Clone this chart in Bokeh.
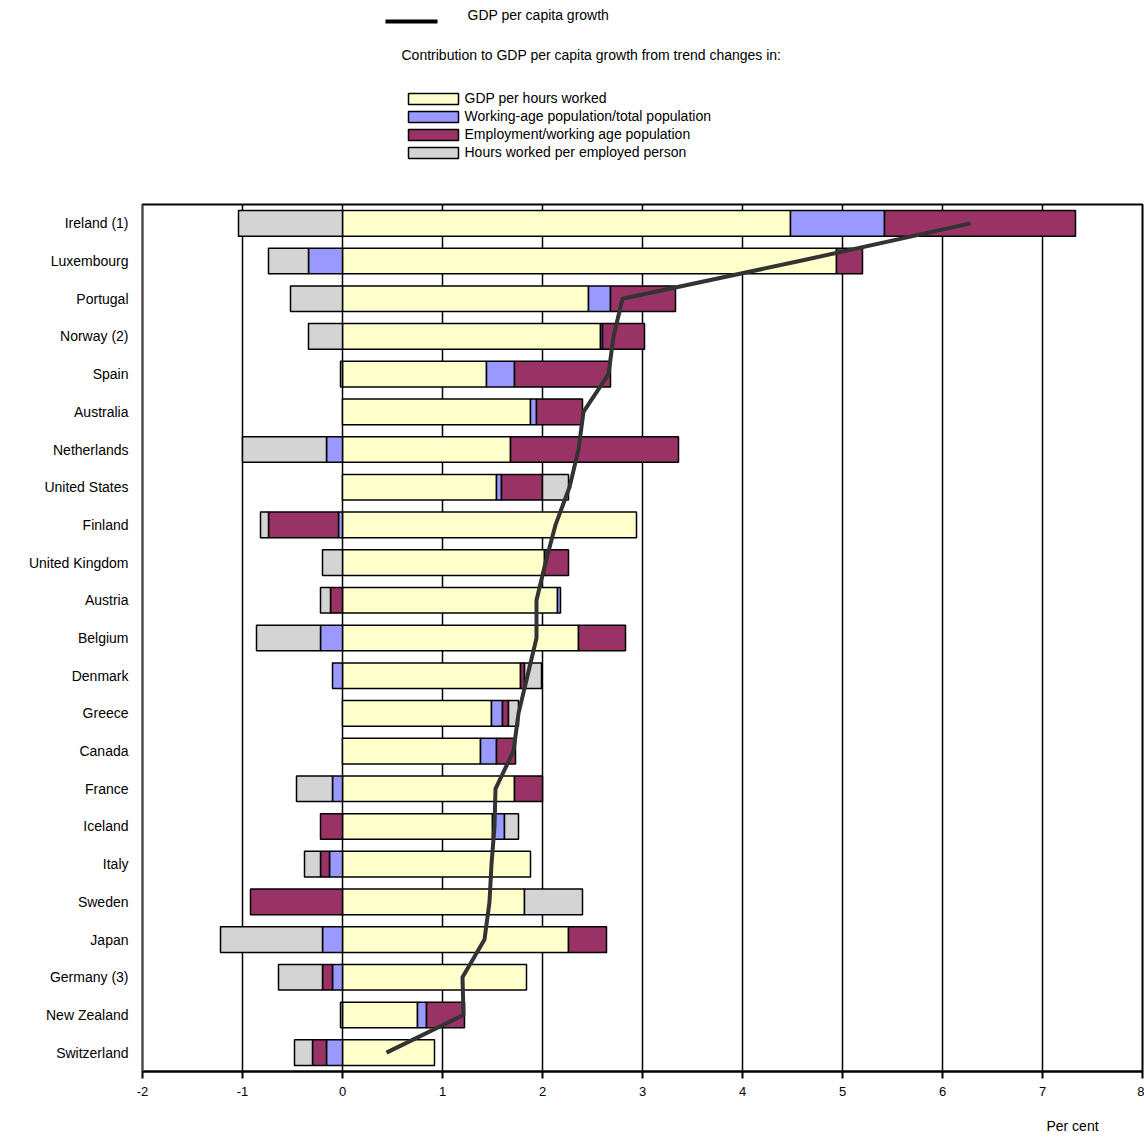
import numpy as np
from bokeh.plotting import figure
from bokeh.models import ColumnDataSource, FactorRange, Range1d, FixedTicker, Span
from bokeh.layouts import column
from bokeh.embed import file_html
from bokeh.resources import INLINE
from bokeh.core.properties import value

FONT = "Liberation Sans"

countries = ["Ireland (1)", "Luxembourg", "Portugal", "Norway (2)", "Spain", "Australia",
             "Netherlands", "United States", "Finland", "United Kingdom", "Austria", "Belgium",
             "Denmark", "Greece", "Canada", "France", "Iceland", "Italy", "Sweden", "Japan",
             "Germany (3)", "New Zealand", "Switzerland"]

gdp_per_hour = [4.48, 4.94, 2.46, 2.58, 1.44, 1.88, 1.68, 1.54, 2.94, 2.02, 2.15, 2.36,
                1.78, 1.49, 1.38, 1.72, 1.50, 1.88, 1.82, 2.26, 1.84, 0.75, 0.92]
working_age = [0.94, -0.34, 0.22, 0.02, 0.28, 0.06, -0.16, 0.05, -0.04, 0.0, 0.03, -0.22,
               -0.10, 0.11, 0.16, -0.10, 0.12, -0.13, 0.0, -0.20, -0.10, 0.09, -0.16]
employment = [1.91, 0.26, 0.65, 0.42, 0.96, 0.46, 1.68, 0.41, -0.70, 0.24, -0.12, 0.47,
              0.04, 0.06, 0.19, 0.28, -0.22, -0.09, -0.92, 0.38, -0.10, 0.38, -0.14]
hours = [-1.04, -0.40, -0.52, -0.34, -0.02, 0.0, -0.84, 0.26, -0.08, -0.20, -0.10, -0.64,
         0.17, 0.10, 0.0, -0.36, 0.14, -0.16, 0.58, -1.02, -0.44, -0.02, -0.18]
gdp_per_capita_growth = [6.28, 4.57, 2.80, 2.71, 2.66, 2.41, 2.36, 2.27, 2.13, 2.03, 1.94, 1.94,
                         1.85, 1.76, 1.71, 1.53, 1.52, 1.49, 1.47, 1.42, 1.20, 1.21, 0.44]

series_names = ["GDP per hours worked", "Working-age population/total population",
                "Employment/working age population", "Hours worked per employed person"]
series_colors = ["#FFFFCC", "#9999FF", "#993366", "#D4D4D4"]
x_ticks = [-2, -1, 0, 1, 2, 3, 4, 5, 6, 7, 8]
x_tick_labels = ["-2", "-1", "0", "1", "2", "3", "4", "5", "6", "7", "8"]

BL, BR = 142, 2          # left / right borders shared by all stacked figures
W = 1144

def text_fig(height):
    f = figure(width=W, height=height, x_range=Range1d(BL, W - BR), y_range=Range1d(height, 0),
               x_axis_type=None, y_axis_type=None, toolbar_location=None,
               output_backend="svg", min_border_left=BL, min_border_right=BR,
               min_border_top=0, min_border_bottom=0, outline_line_color=None)
    f.grid.visible = False
    return f

# ---------------- legend figure (coords = page pixels) ----------------
leg = text_fig(200)
leg.line(x=[385, 437], y=[21, 21], line_color="black", line_width=4)
leg.text(x=[467], y=[14], text=["GDP per capita growth"], text_font=value(FONT),
         text_font_size="14px", text_baseline="middle", text_align="left", text_color="black")
leg.text(x=[401], y=[54], text=["Contribution to GDP per capita growth from trend changes in:"],
         text_font=value(FONT), text_font_size="14px", text_baseline="middle",
         text_align="left", text_color="black")
leg_y = [98.5, 116.5, 134.5, 152.5]
leg.quad(left=[408] * 4, right=[458] * 4, top=[y - 5.5 for y in leg_y],
         bottom=[y + 5.5 for y in leg_y], fill_color=series_colors, line_color="black",
         line_width=1.5)
leg.text(x=[464] * 4, y=[y - 1.5 for y in leg_y], text=series_names, text_font=value(FONT),
         text_font_size="14px", text_baseline="middle", text_align="left", text_color="black")

# ---------------- main figure ----------------
p = figure(width=W, height=911, x_range=Range1d(-2, 8),
           y_range=FactorRange(factors=list(reversed(countries))),
           toolbar_location=None, output_backend="svg",
           min_border_left=BL, min_border_right=BR, min_border_top=4, min_border_bottom=40)
p.outline_line_color = "black"
p.outline_line_width = 2

p.xgrid.ticker = FixedTicker(ticks=x_ticks)
p.xgrid.grid_line_color = "black"
p.xgrid.grid_line_width = 1.5
p.ygrid.grid_line_color = None

pos = np.zeros(len(countries))
neg = np.zeros(len(countries))
for vals, color in zip([gdp_per_hour, working_age, employment, hours], series_colors):
    v = np.array(vals, dtype=float)
    left = np.where(v >= 0, pos, neg + v)
    right = np.where(v >= 0, pos + v, neg)
    pos = np.where(v >= 0, pos + v, pos)
    neg = np.where(v < 0, neg + v, neg)
    mask = v != 0
    src = ColumnDataSource(dict(y=[c for c, m in zip(countries, mask) if m],
                                left=left[mask], right=right[mask]))
    p.hbar(y="y", left="left", right="right", height=0.68, source=src,
           fill_color=color, line_color="black", line_width=1.5)

p.line(x=gdp_per_capita_growth, y=countries, line_color="#333333", line_width=4,
       line_join="round")

# left border gray
p.add_layout(Span(location=-2, dimension="height", line_color="#888888", line_width=2))

xa = p.xaxis[0]
xa.ticker = FixedTicker(ticks=x_ticks)
xa.major_label_overrides = {t: s for t, s in zip(x_ticks, x_tick_labels)}
xa.axis_line_color = "black"
xa.axis_line_width = 2
xa.major_tick_out = 7
xa.major_tick_in = 0
xa.major_tick_line_width = 2
xa.minor_tick_line_color = None
xa.major_label_standoff = 8
xa.major_label_text_font = FONT
xa.major_label_text_font_size = "13px"
xa.major_label_text_color = "black"

ya = p.yaxis[0]
ya.axis_line_color = None
ya.major_tick_line_color = None
ya.major_tick_out = 0
ya.major_tick_in = 0
ya.minor_tick_line_color = None
ya.major_label_standoff = 14
ya.major_label_text_font = FONT
ya.major_label_text_font_size = "14px"
ya.major_label_text_color = "black"

# ---------------- footer figure ----------------
foot = text_fig(26)
foot.text(x=[1072], y=[14], text=["Per cent"], text_font=value(FONT), text_font_size="14px",
          text_baseline="middle", text_align="center", text_color="black")

layout = column(leg, p, foot, spacing=0)
open("out.html", "w").write(file_html(layout, INLINE))
